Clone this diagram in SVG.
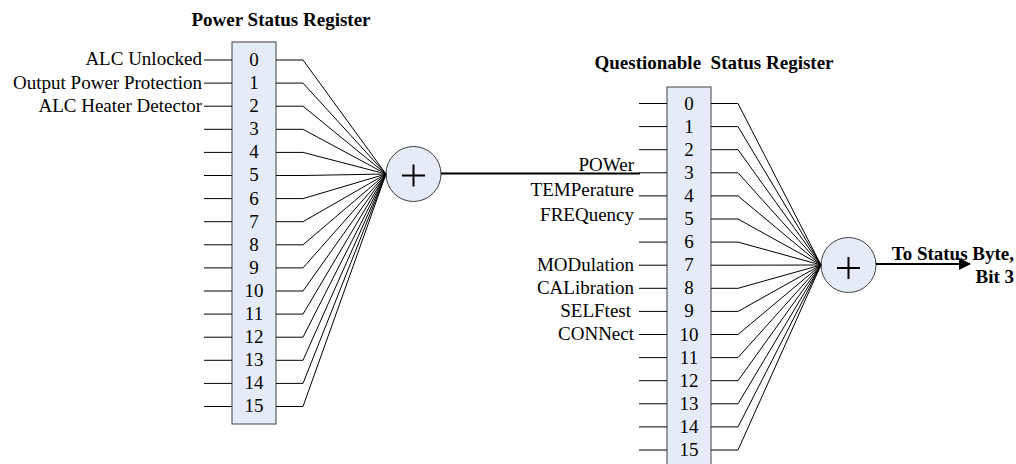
<svg xmlns="http://www.w3.org/2000/svg" width="1016" height="464" viewBox="0 0 1016 464">
<style>
text{font-family:"Liberation Serif","Times New Roman",serif;font-size:19px;fill:#000}
.t{font-weight:bold;text-anchor:middle;white-space:pre}
.d{text-anchor:middle}
.l{text-anchor:end}
.box{fill:#E6ECF7;stroke:#404040;stroke-width:1}
.w{fill:none;stroke:#000;stroke-width:1}
.thick{fill:none;stroke:#000;stroke-width:2}
.plus{stroke:#000;stroke-width:2}
</style>
<defs>
<marker id="ah" markerWidth="12" markerHeight="12" refX="11" refY="6" orient="auto" markerUnits="userSpaceOnUse">
<path d="M0,0 L12,6 L0,12 Z" fill="#000"/>
</marker>
</defs>
<rect width="1016" height="464" fill="#fff"/>

<g id="power-register">
<text class="t" x="281" y="26">Power Status Register</text>
<rect class="box" x="232" y="42" width="44" height="382"/>
<text class="d" x="254" y="66">0</text>
<text class="d" x="254" y="89">1</text>
<text class="d" x="254" y="112">2</text>
<text class="d" x="254" y="135">3</text>
<text class="d" x="254" y="158">4</text>
<text class="d" x="254" y="181">5</text>
<text class="d" x="254" y="205">6</text>
<text class="d" x="254" y="228">7</text>
<text class="d" x="254" y="251">8</text>
<text class="d" x="254" y="274">9</text>
<text class="d" x="254" y="297">10</text>
<text class="d" x="254" y="320">11</text>
<text class="d" x="254" y="343">12</text>
<text class="d" x="254" y="366">13</text>
<text class="d" x="254" y="389">14</text>
<text class="d" x="254" y="412">15</text>
<text class="l" x="202" y="65">ALC Unlocked</text>
<text class="l" x="202" y="89">Output Power Protection</text>
<text class="l" x="202" y="112">ALC Heater Detector</text>
</g>

<g id="power-sum">
<circle class="box" cx="413.5" cy="174" r="27.5"/>
<line class="plus" x1="402" y1="175.5" x2="425" y2="175.5"/>
<line class="plus" x1="413.5" y1="164.5" x2="413.5" y2="186.5"/>
</g>

<g id="questionable-register">
<text class="t" x="714" y="69">Questionable  Status Register</text>
<rect class="box" x="667" y="87" width="44" height="390"/>
<text class="d" x="689" y="110">0</text>
<text class="d" x="689" y="133">1</text>
<text class="d" x="689" y="156">2</text>
<text class="d" x="689" y="179">3</text>
<text class="d" x="689" y="202">4</text>
<text class="d" x="689" y="225">5</text>
<text class="d" x="689" y="248">6</text>
<text class="d" x="689" y="271">7</text>
<text class="d" x="689" y="294">8</text>
<text class="d" x="689" y="317">9</text>
<text class="d" x="689" y="341">10</text>
<text class="d" x="689" y="364">11</text>
<text class="d" x="689" y="387">12</text>
<text class="d" x="689" y="410">13</text>
<text class="d" x="689" y="433">14</text>
<text class="d" x="689" y="456">15</text>
<text class="l" x="634" y="171">POWer</text>
<text class="l" x="634" y="196">TEMPerature</text>
<text class="l" x="634" y="221">FREQuency</text>
<text class="l" x="634" y="271">MODulation</text>
<text class="l" x="634" y="294">CALibration</text>
<text class="l" x="631" y="317">SELFtest</text>
<text class="l" x="634" y="340">CONNect</text>
</g>

<g id="questionable-sum">
<circle class="box" cx="848.5" cy="265" r="27.5"/>
<line class="plus" x1="837" y1="268" x2="860" y2="268"/>
<line class="plus" x1="848.5" y1="257" x2="848.5" y2="279"/>
</g>

<g id="status-byte-label">
<text class="l" x="1014" y="260" font-weight="bold">To Status Byte,</text>
<text class="l" x="1014" y="283" font-weight="bold">Bit 3</text>
</g>

<g id="connectors">
<!-- power register inputs -->
<path class="w" d="M204,60H232M204,83.1H232M204,106.2H232M204,129.3H232M204,152.4H232M204,175.5H232M204,198.6H232M204,221.7H232M204,244.8H232M204,267.9H232M204,291H232M204,314.1H232M204,337.2H232M204,360.3H232M204,383.4H232M204,406.5H232"/>
<!-- power register fan-in -->
<path class="w" d="M276,60H303L386,174M276,83.1H303L386,174M276,106.2H303L386,174M276,129.3H303L386,174M276,152.4H303L386,174M276,175.5H303L386,174M276,198.6H303L386,174M276,221.7H303L386,174M276,244.8H303L386,174M276,267.9H303L386,174M276,291H303L386,174M276,314.1H303L386,174M276,337.2H303L386,174M276,360.3H303L386,174M276,383.4H303L386,174M276,406.5H303L386,174"/>
<!-- power summary to questionable bit 3 -->
<line class="thick" x1="441" y1="173.5" x2="640" y2="173.5"/>
<!-- questionable register inputs -->
<path class="w" d="M639,103.5H667M639,126.6H667M639,149.7H667M639,172.8H667M639,195.9H667M639,219H667M639,242.1H667M639,265.2H667M639,288.3H667M639,311.4H667M639,334.5H667M639,357.6H667M639,380.7H667M639,403.8H667M639,426.9H667M639,450H667"/>
<!-- questionable fan-in -->
<path class="w" d="M711,103.5H738L821,265M711,126.6H738L821,265M711,149.7H738L821,265M711,172.8H738L821,265M711,195.9H738L821,265M711,219H738L821,265M711,242.1H738L821,265M711,265.2H738L821,265M711,288.3H738L821,265M711,311.4H738L821,265M711,334.5H738L821,265M711,357.6H738L821,265M711,380.7H738L821,265M711,403.8H738L821,265M711,426.9H738L821,265M711,450H738L821,265"/>
<!-- output arrow -->
<line class="thick" x1="876" y1="264" x2="970" y2="264" marker-end="url(#ah)"/>
</g>
</svg>
